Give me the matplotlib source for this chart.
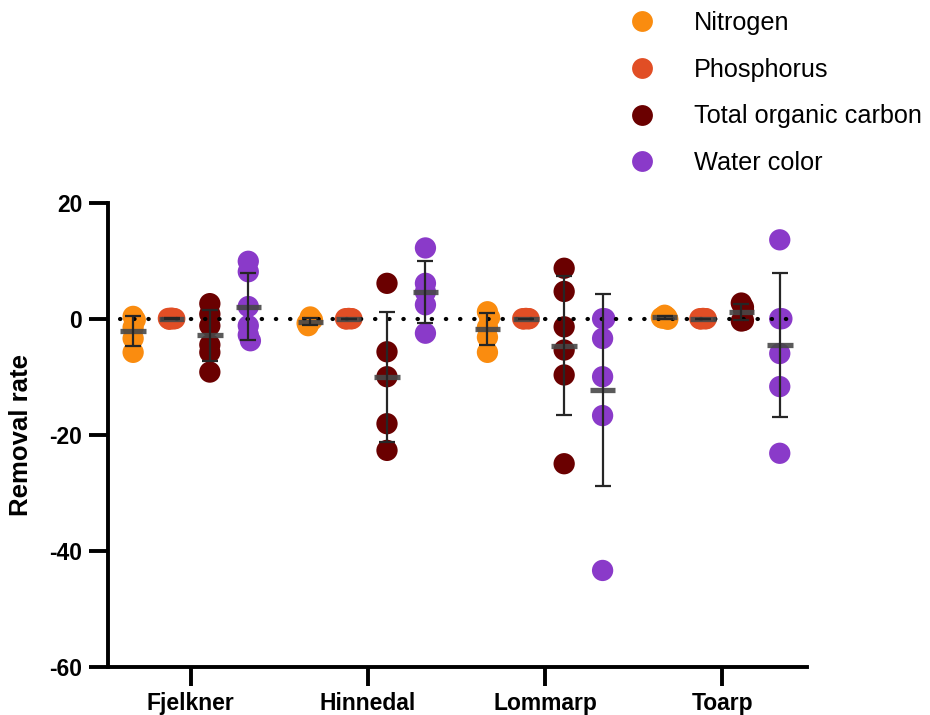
import numpy as np
import matplotlib
matplotlib.use('Agg')
import matplotlib.pyplot as plt
from matplotlib.lines import Line2D

plt.rcParams['font.family'] = ['Liberation Sans', 'DejaVu Sans']
plt.rcParams['axes.unicode_minus'] = False

sites = ['Fjelkner', 'Hinnedal', 'Lommarp', 'Toarp']
series_names = ['Nitrogen', 'Phosphorus', 'Total organic carbon', 'Water color']
colors = ['#FA8C0F', '#E14E25', '#6A0000', '#8A3AC9']

# removal rate per site (individual measurements)
nitrogen = [[0.4, -0.2, -1.5, -3.4, -5.8],
            [0.3, -0.2, -0.6, -1.2, -0.8],
            [1.2, 0.2, -1.5, -3.2, -5.8],
            [0.6, 0.3, 0.1, -0.1, 0.2]]
phosphorus = [[0.1, 0.0, -0.1, 0.0, 0.05],
              [0.05, 0.0, -0.05, 0.0, 0.0],
              [0.05, 0.0, -0.05, 0.0, 0.0],
              [0.05, 0.0, -0.05, 0.0, 0.0]]
toc = [[2.6, 0.8, -1.2, -4.5, -5.8, -9.2],
       [6.1, -5.7, -10.0, -18.1, -22.7],
       [8.7, 4.7, -1.4, -5.4, -9.7, -25.0],
       [2.7, 2.0, 1.5, -0.4, -0.3]]
water_color = [[9.9, 8.1, 2.1, -1.2, -2.8, -3.8],
               [12.2, 6.1, 4.6, 2.4, -2.5],
               [0.0, 0.0, -3.4, -10.0, -16.7, -43.4],
               [13.6, 0.0, 0.0, -6.0, -11.7, -23.2]]
all_series = [nitrogen, phosphorus, toc, water_color]


def swarm(vals, step=0.012, tol=1.2):
    # tiny horizontal spread for points that sit on top of each other
    pattern = [0, 1, -1, 1.5, -1.5, 2, -2]
    offs = []
    for i, v in enumerate(vals):
        k = sum(1 for w in vals[:i] if abs(w - v) < tol)
        offs.append(pattern[min(k, len(pattern) - 1)] * step)
    return np.array(offs)


fig = plt.figure(figsize=(9.3, 7.15), dpi=100)
ax = fig.add_axes([0.1161, 0.0675, 0.7513, 0.649])

offsets = [-0.325, -0.108, 0.108, 0.325]
for si, (series, col) in enumerate(zip(all_series, colors)):
    for gi, vals in enumerate(series):
        vals = np.array(vals)
        xc = gi + offsets[si]
        ax.scatter(xc + swarm(list(vals)), vals, s=235, color=col,
                   edgecolors='none', zorder=2)
        m = vals.mean()
        sd = vals.std(ddof=1)
        ax.hlines(m, xc - 0.072, xc + 0.072, color='#484848', lw=3.8,
                  alpha=0.9, zorder=4)
        ax.errorbar(xc, m, yerr=sd, fmt='none', ecolor='#262626',
                    elinewidth=1.6, capsize=6, capthick=1.6, zorder=5)

ax.plot([-0.4, 3.42], [0, 0], color='black', lw=3,
        ls=(0, (0.1, 3.3)), dash_capstyle='round', zorder=3)

ax.set_xlim(-0.467, 3.477)
ax.set_ylim(-60, 20)
ax.set_yticks([20, 0, -20, -40, -60])
ax.set_xticks(range(len(sites)), sites)
ax.spines['top'].set_visible(False)
ax.spines['right'].set_visible(False)
for sp in ['left', 'bottom']:
    ax.spines[sp].set_linewidth(2.8)
ax.tick_params(length=13.5, width=2.8, pad=5, labelsize=16.5)
for lab in ax.get_xticklabels() + ax.get_yticklabels():
    lab.set_fontweight('bold')
ax.set_ylabel('Removal rate', fontsize=18.5, fontweight='bold', labelpad=12)

handles = [Line2D([], [], ls='none', marker='o', markersize=15,
                  markerfacecolor=c, markeredgecolor='none') for c in colors]
fig.legend(handles, series_names, loc='upper left',
           bbox_to_anchor=(0.655, 1.013), frameon=False, fontsize=18.2,
           handlelength=1.0, handletextpad=1.55, labelspacing=0.9,
           borderpad=0.3)

fig.savefig('out.png', dpi=100)
